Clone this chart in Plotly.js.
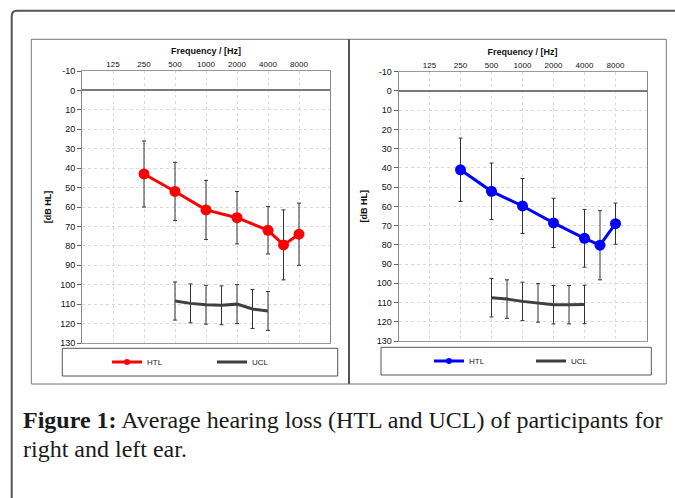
<!DOCTYPE html>
<html>
<head>
<meta charset="utf-8">
<script src="https://cdn.plot.ly/plotly-3.0.1.min.js"></script>
<style>html,body{margin:0;padding:0;background:#fff;}#chart{width:675px;height:498px;}</style>
</head>
<body>
<div id="chart"></div>
<script>
// ---- data ----
const freqTickLabels = ['125', '250', '500', '1000', '2000', '4000', '8000'];
const freqTickHz = [125, 250, 500, 1000, 2000, 4000, 8000];
const yTicks = [-10, 0, 10, 20, 30, 40, 50, 60, 70, 80, 90, 100, 110, 120, 130];
const yTickLabels = ['-10', '0', '10', '20', '30', '40', '50', '60', '70', '80', '90', '100', '110', '120', '130'];

const htlFreq = [250, 500, 1000, 2000, 4000, 6000, 8000];
const uclFreq = [500, 750, 1000, 1500, 2000, 3000, 4000];

const htlRight = [43, 52, 61.5, 65.5, 72, 79.5, 74];
const htlRightErr = [17, 15, 15.2, 13.5, 12.2, 18, 16];
const uclRight = [108.4, 109.6, 110.3, 110.6, 110, 112.5, 113.5];
const uclRightErr = [9.8, 10, 10, 10, 10, 10, 10];

const htlLeft = [41, 52.2, 59.8, 68.6, 76.6, 80.2, 69];
const htlLeftErr = [16.5, 14.7, 14.3, 12.8, 15, 18, 10.7];
const uclLeft = [107.5, 108.2, 109.4, 110.2, 111.1, 111.1, 111];
const uclLeftErr = [10, 10, 10, 10, 10, 10, 10];

// audiogram position: octaves equally spaced, half-octave frequencies midway
function pos(f) {
  const o = Math.log2(f / 125);
  const lo = Math.floor(o + 1e-9);
  return 1 + lo + (o - lo > 1e-6 ? 0.5 : 0);
}

const W = 675, H = 498;
const px = x => x / W;
const py = y => 1 - y / H;

const errStyle = arr => ({type: 'data', array: arr, visible: true, color: '#333', thickness: 1, width: 2});

function makeTraces(xa, ya, htl, htlErr, ucl, uclErr, color, legendId) {
  return [
    {x: uclFreq.map(pos), y: ucl, xaxis: xa, yaxis: ya, mode: 'lines', name: 'UCL',
     line: {color: '#404040', width: 3}, error_y: errStyle(uclErr), showlegend: false, hoverinfo: 'skip'},
    {x: htlFreq.map(pos), y: htl, xaxis: xa, yaxis: ya, mode: 'lines+markers', name: 'HTL',
     line: {color: color, width: 3}, marker: {color: color, size: 11}, error_y: errStyle(htlErr),
     showlegend: false, hoverinfo: 'skip'},
    {x: [null], y: [null], xaxis: xa, yaxis: ya, mode: 'lines+markers', name: 'HTL', legend: legendId,
     line: {color: color, width: 3}, marker: {color: color, size: 6}, showlegend: true},
    {x: [null], y: [null], xaxis: xa, yaxis: ya, mode: 'lines', name: 'UCL', legend: legendId,
     line: {color: '#404040', width: 3}, showlegend: true}
  ];
}

const data = [
  ...makeTraces('x', 'y', htlRight, htlRightErr, uclRight, uclRightErr, '#ff0000', 'legend'),
  ...makeTraces('x2', 'y2', htlLeft, htlLeftErr, uclLeft, uclLeftErr, '#0000ff', 'legend2')
];

function xAxis(domain, anchor) {
  return {
    domain: domain, anchor: anchor, range: [0, 8], side: 'top',
    tickmode: 'array', tickvals: freqTickHz.map(pos), ticktext: freqTickLabels,
    tickfont: {size: 8, color: '#111'}, ticks: '',
    showgrid: true, gridcolor: '#dadada', griddash: 'dot', gridwidth: 1,
    showline: true, mirror: true, linecolor: '#999', linewidth: 1, zeroline: false,
    title: {text: '<b>Frequency / [Hz]</b>', font: {size: 9, color: '#111'}, standoff: 3},
    fixedrange: true
  };
}
function yAxis(domain, anchor) {
  return {
    domain: domain, anchor: anchor, range: [130, -10], autorange: false,
    tickmode: 'array', tickvals: yTicks, ticktext: yTickLabels, tickfont: {size: 9, color: '#111'},
    ticks: 'outside', ticklen: 4, tickcolor: '#666',
    showgrid: true, gridcolor: '#dadada', griddash: 'dot', gridwidth: 1,
    showline: true, mirror: true, linecolor: '#888', linewidth: 1,
    zeroline: true, zerolinecolor: '#7a7a7a', zerolinewidth: 2,
    title: {text: '<b>[dB HL]</b>', font: {size: 9, color: '#111'}, standoff: 7},
    fixedrange: true
  };
}

const legendBase = {
  orientation: 'h', xanchor: 'left', yanchor: 'middle', font: {size: 8, color: '#222'},
  bgcolor: 'rgba(0,0,0,0)', borderwidth: 0, entrywidthmode: 'pixels',
  itemwidth: 30, itemclick: false, itemdoubleclick: false
};

const shapes = [
  // outer frame with rounded top-left corner
  {type: 'path', xref: 'paper', yref: 'paper', layer: 'above',
   path: `M ${px(11.7)} ${py(498)} L ${px(11.7)} ${py(16)} Q ${px(11.7)} ${py(10.7)} ${px(17)} ${py(10.7)} L ${px(675)} ${py(10.7)}`,
   line: {color: '#555', width: 2}},
  // chart boxes
  {type: 'rect', xref: 'paper', yref: 'paper', x0: px(31.3), x1: px(349), y0: py(384), y1: py(39.3),
   line: {color: '#777', width: 1}},
  {type: 'rect', xref: 'paper', yref: 'paper', x0: px(349), x1: px(666.3), y0: py(384), y1: py(39.3),
   line: {color: '#777', width: 1}},
  {type: 'line', xref: 'paper', yref: 'paper', x0: px(349), x1: px(349), y0: py(384), y1: py(39.3),
   line: {color: '#555', width: 2}},
  // legend boxes
  {type: 'rect', xref: 'paper', yref: 'paper', x0: px(62.3), x1: px(337.7), y0: py(376), y1: py(348.3),
   line: {color: '#555', width: 1}},
  {type: 'rect', xref: 'paper', yref: 'paper', x0: px(381), x1: px(651.3), y0: py(375), y1: py(347.3),
   line: {color: '#555', width: 1}}
];

const capFont = {family: 'Liberation Serif, Times New Roman, serif', size: 24, color: '#1a1a1a'};
const annotations = [
  {xref: 'paper', yref: 'paper', x: px(21), y: py(420), xanchor: 'left', yanchor: 'middle', showarrow: false,
   text: '<b>Figure 1:</b> Average hearing loss (HTL and UCL) of participants for', font: capFont},
  {xref: 'paper', yref: 'paper', x: px(21), y: py(449), xanchor: 'left', yanchor: 'middle', showarrow: false,
   text: 'right and left ear.', font: capFont}
];

const layout = {
  width: W, height: H, margin: {l: 0, r: 0, t: 0, b: 0, autoexpand: false},
  paper_bgcolor: '#fff', plot_bgcolor: '#fff',
  font: {family: 'Liberation Sans, Arial, sans-serif', color: '#222'},
  xaxis: xAxis([px(82), px(330)], 'y'),
  yaxis: yAxis([py(343), py(71)], 'x'),
  xaxis2: xAxis([px(398.5), px(646.5)], 'y2'),
  yaxis2: yAxis([py(341), py(71.7)], 'x2'),
  legend: Object.assign({}, legendBase, {x: px(107), y: py(362), entrywidth: 60}),
  legend2: Object.assign({}, legendBase, {x: px(429), y: py(361), entrywidth: 57}),
  shapes: shapes,
  annotations: annotations,
  showlegend: true
};

Plotly.newPlot('chart', data, layout, {displayModeBar: false, staticPlot: true});
</script>
</body>
</html>
